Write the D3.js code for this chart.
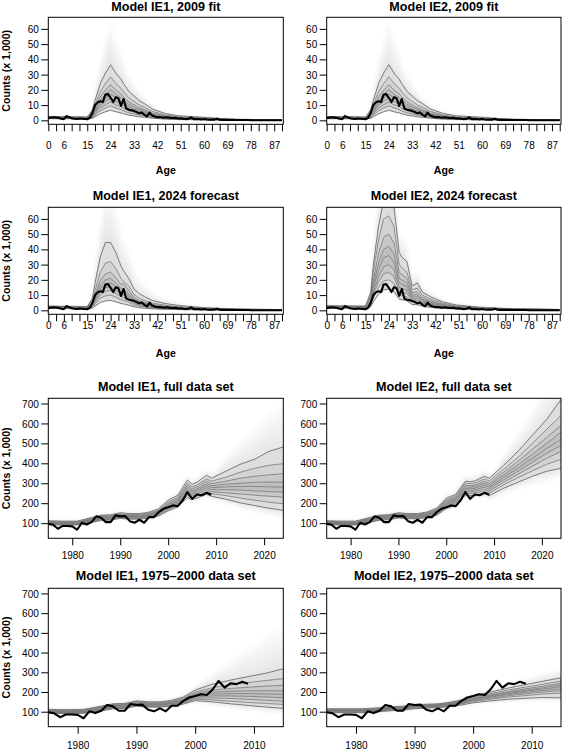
<!DOCTYPE html>
<html><head><meta charset="utf-8">
<script src="https://cdn.jsdelivr.net/npm/d3@7"></script>
<style>
body{margin:0;background:#fff}
svg{display:block}
text{font-family:"Liberation Sans",Arial,Helvetica,sans-serif;fill:#000}
</style>
</head><body><svg id="c" width="562" height="750"></svg>
<script>
// ---------------- DATA ----------------
// Observed 2009 counts by age (x 1,000), ages 0..90
const obsAges = [0,1,2,3,4,5,6,7,8,9,10,11,12,13,14,15,16,17,18,19,20,21,22,23,24,25,26,27,28,29,30,31,32,33,34,35,36,37,38,39,40,41,42,43,44,45,46,47,48,49,50,51,52,53,54,55,56,57,58,59,60,61,62,63,64,65,66,67,68,69,70,71,72,73,74,75,76,77,78,79,80,81,82,83,84,85,86,87,88,89,90];
const obsByAge = [1.5,1.8,2.0,1.9,1.6,1.1,0.8,2.8,2.1,1.4,1.0,0.9,1.1,1.0,0.9,0.7,1.6,5.0,10.0,11.8,12.5,12.0,17.0,17.2,14.8,12.0,15.2,14.5,9.5,14.0,7.8,7.0,6.6,6.2,5.5,4.6,5.2,3.6,2.6,5.0,3.2,2.5,2.0,2.2,1.8,1.9,2.0,1.6,1.5,1.7,1.2,1.3,1.0,0.8,1.0,2.0,0.8,0.9,0.8,0.6,0.9,0.5,0.4,0.5,0.5,1.0,0.4,0.3,0.3,0.3,0.3,0.3,0.2,0.2,0.2,0.2,0.2,0.2,0.1,0.1,0.1,0.1,0.1,0.1,0.1,0.1,0.1,0.1,0.1,0.1,0.1];

// Observed totals by year (x 1,000)
const obsYears = [1975,1976,1977,1978,1979,1980,1981,1982,1983,1984,1985,1986,1987,1988,1989,1990,1991,1992,1993,1994,1995,1996,1997,1998,1999,2000,2001,2002,2003,2004,2005,2006,2007,2008,2009];
const obsByYear = [97,92,72,86,86,84,67,102,93,105,134,127,105,105,139,134,136,110,102,117,102,130,130,155,172,180,189,185,214,256,222,244,240,252,242];

// Age axis
const ageKnots = [0,15,17,18,20,22,24,26,28,29,31,33,35,37,40,45,50,60,70,90];
const ageTicks = [0,3,6,9,12,15,18,21,24,27,30,33,36,39,42,45,48,51,54,57,60,63,66,69,72,75,78,81,84,87,90];
const ageTickLabels = [0,6,15,24,33,42,51,60,69,78,87];
const ageYTicks = [0,10,20,30,40,50,60];

// Model IE1 / IE2, 2009 fit: quantile lines (top to bottom)
const fit2009 = [
 [2.5,2.2,7.0,13,24,31,36.5,31,27,24,19,16,13,11,7.5,4.5,3.0,2.0,0.8,0.3],
 [2.3,2.0,5.5,10.1,18.7,24.2,28.5,24.2,21.1,18.7,14.8,12.5,10.1,8.6,5.9,3.5,2.3,1.6,0.6,0.2],
 [2.1,1.9,4.5,8.3,15.4,19.8,23.4,19.8,17.3,15.4,12.2,10.2,8.3,7.0,4.8,2.9,1.9,1.3,0.5,0.2],
 [2.0,1.8,3.9,7.2,13.2,17.1,20.1,17.1,14.9,13.2,10.5,8.8,7.2,6.1,4.1,2.5,1.7,1.1,0.4,0.2],
 [1.8,1.6,3.3,6.1,11.3,14.6,17.2,14.6,12.7,11.3,8.9,7.5,6.1,5.2,3.5,2.1,1.4,0.9,0.4,0.1],
 [1.7,1.5,2.8,5.2,9.6,12.4,14.6,12.4,10.8,9.6,7.6,6.4,5.2,4.4,3.0,1.8,1.2,0.8,0.3,0.1],
 [1.5,1.4,2.3,4.3,7.9,10.2,12.0,10.2,8.9,7.9,6.3,5.3,4.3,3.6,2.5,1.5,1.0,0.7,0.3,0.1],
 [1.3,1.2,1.8,3.4,6.2,8.1,9.5,8.1,7.0,6.2,4.9,4.2,3.4,2.9,2.0,1.2,0.8,0.5,0.2,0.1],
 [1.1,1.0,1.3,2.3,4.3,5.6,6.6,5.6,4.9,4.3,3.4,2.9,2.3,2.0,1.4,0.8,0.5,0.4,0.1,0.05]
];
const fit2009Halo = [3.2,2.8,12,22,42,56,66,56,46,40,32,26,20,16,11,6,4,2.5,1,0.4];

// Model IE1, 2024 forecast
const ie1Fc2024 = [
 [2.8,2.5,8.0,18,35,44.5,44.5,38,29,26,21,14,11,9,6.5,4.5,3.2,1.8,1.0,0.5],
 [2.5,2.3,6.5,13,25,31,32,27.5,21,19,16,10.5,8,6.5,4.8,3.3,2.4,1.4,0.8,0.4],
 [2.3,2.1,5.2,10.5,19.5,24,25,21.5,17,17.5,13,8.5,6.5,5.3,3.9,2.7,2.0,1.2,0.7,0.3],
 [2.2,2.0,4.5,9.0,16.5,20,21,18,14.5,14,11,7.3,5.6,4.5,3.3,2.3,1.7,1.0,0.6,0.3],
 [2.0,1.9,3.9,7.7,14.2,17.2,18,15.5,12.4,11.8,9.5,6.3,4.8,3.9,2.8,2.0,1.5,0.9,0.5,0.3],
 [1.9,1.8,3.4,6.6,12.2,14.8,15.5,13.3,10.7,10,8.2,5.4,4.1,3.4,2.4,1.7,1.3,0.8,0.4,0.2],
 [1.8,1.6,2.8,5.5,10.2,12.4,13,11.2,9.0,8.4,6.9,4.5,3.5,2.8,2.0,1.4,1.1,0.7,0.4,0.2],
 [1.5,1.4,2.2,4.2,7.9,9.5,10,8.6,6.9,6.5,5.3,3.5,2.7,2.2,1.6,1.1,0.8,0.5,0.3,0.1],
 [1.2,1.1,1.4,2.8,5.1,6.2,6.5,5.6,4.5,4.2,3.4,2.3,1.7,1.4,1.0,0.7,0.5,0.3,0.2,0.1]
];
const ie1Fc2024Halo = [3.6,3.2,16,32,62,78,80,70,55,48,40,28,22,18,12,8,5.5,3,1.5,0.8];

// Model IE2, 2024 forecast
const ie2Fc2024 = [
 [3.0,2.8,12,30,55,72,75,68,38,35,32,16,18,12,9,5.5,3.5,2.0,1.2,0.6],
 [2.8,2.6,10,25,46,60,62,55,30,28,25,13.5,14.5,10,7.5,4.6,3.0,1.7,1.0,0.5],
 [2.6,2.4,8.5,20,37,48,50,44,25,23.5,21,11.5,12,8.5,6.3,3.9,2.6,1.5,0.9,0.5],
 [2.4,2.2,7.0,17,31,40,42,37,21,20,18,10,10.3,7.3,5.4,3.4,2.3,1.3,0.8,0.4],
 [2.2,2.0,6.0,14.5,26.5,34.5,36,31.5,18,17,15.5,8.7,9,6.4,4.7,3.0,2.0,1.2,0.7,0.4],
 [2.0,1.9,5.0,12,22,28.5,30,26.5,15,14.5,13,7.5,7.6,5.5,4.0,2.6,1.7,1.0,0.6,0.3],
 [1.9,1.7,4.2,10,18.5,24,25,22,12.7,12.2,11,6.4,6.4,4.7,3.4,2.2,1.5,0.9,0.5,0.3],
 [1.7,1.5,3.4,8,14.8,19.2,20,17.6,10.3,9.8,8.8,5.2,5.2,3.8,2.8,1.8,1.2,0.8,0.4,0.2],
 [1.4,1.3,2.4,5.6,10.4,13.4,14,12.3,7.3,7.0,6.3,3.8,3.7,2.8,2.0,1.3,0.9,0.6,0.3,0.2]
];
const ie2Fc2024Halo = [4,3.5,20,45,85,100,100,90,55,50,45,25,25,18,13,8,5.5,3,1.8,0.9];

// Time axes
const fullKnots = [1975,1978,1981,1984,1986,1988,1990,1992,1994,1996,1998,2000,2002,2004,2005,2006,2008,2009,2012,2015,2018,2021,2024];
const shortKnots = [1975,1978,1981,1984,1986,1988,1990,1992,1994,1996,1998,2000,2003,2006,2009,2012,2015];
const fullYearTicks = [1980,1990,2000,2010,2020];
const shortYearTicks = [1980,1990,2000,2010];
const countYTicks = [100,200,300,400,500,600,700];

// Model IE1, full data set
const ie1Full = [
 [112,110,110,128,140,142,152,148,148,155,172,215,240,315,295,305,340,325,360,395,420,460,482],
 [108,107,107,124,136,138,147,143,143,150,166,205,230,300,282,292,322,310,330,355,375,390,398],
 [105,104,104,121,133,134,143,139,139,146,161,198,222,290,272,282,310,298,310,325,335,342,348],
 [103,102,102,118,130,131,140,136,136,143,157,192,215,280,263,272,298,288,295,300,305,306,306],
 [100,100,100,115,127,128,137,133,133,140,153,186,208,270,255,263,288,278,282,284,284,282,280],
 [98,98,98,112,124,125,134,130,130,137,149,180,202,260,246,254,278,268,268,266,262,258,256],
 [96,96,96,109,121,122,131,127,127,134,145,174,196,250,237,245,268,258,252,246,240,235,231],
 [94,94,94,106,118,119,128,124,124,130,141,168,190,240,228,236,258,248,238,226,215,205,197],
 [91,91,91,103,114,115,124,120,120,126,136,162,182,228,218,226,245,235,220,202,188,175,164]
];
const ie1FullHalo = [120,118,118,138,150,152,162,158,158,166,185,235,265,345,325,335,370,360,440,520,590,660,720];
const ie1FullHaloLow = [86,86,86,97,108,109,117,113,113,119,128,150,170,210,200,208,225,215,195,170,150,135,120];

// Model IE2, full data set
const ie2Full = [
 [112,110,110,128,140,142,152,148,148,156,175,225,245,310,308,312,335,325,390,460,540,620,720],
 [109,107,107,125,137,139,148,144,144,152,170,217,237,300,298,302,322,312,370,430,500,570,640],
 [106,104,104,122,134,136,145,141,141,148,165,210,230,290,288,292,310,300,355,410,470,530,590],
 [104,102,102,119,131,133,142,138,138,145,161,204,224,282,280,284,300,290,342,392,445,500,555],
 [101,100,100,116,128,130,139,135,135,142,157,198,218,274,272,276,290,280,330,376,425,475,520],
 [99,98,98,113,125,127,136,132,132,139,153,192,212,266,264,268,280,270,318,360,405,450,490],
 [97,96,96,110,122,124,133,129,129,136,149,186,206,258,256,260,270,260,305,345,385,425,460],
 [95,94,94,107,119,121,130,126,126,132,145,180,200,250,248,252,260,250,292,328,362,395,420],
 [92,91,91,104,115,117,126,122,122,128,140,173,192,240,238,242,248,238,275,305,335,360,375]
];
const ie2FullHalo = [122,120,120,140,152,155,165,161,161,170,190,245,270,340,340,345,370,360,450,560,680,800,900];
const ie2FullHaloLow = [85,85,85,97,107,109,116,112,112,118,127,155,172,215,213,217,222,212,240,262,285,305,320];

// Model IE1, 1975-2000 data set
const ie1Short = [
 [112,110,112,128,140,142,155,150,150,158,175,210,240,260,278,295,318],
 [109,107,109,125,137,139,151,146,146,153,169,200,222,236,248,258,268],
 [106,104,106,122,134,136,147,142,142,149,164,193,210,218,224,230,234],
 [104,102,104,119,131,133,144,139,139,146,160,187,200,204,206,207,206],
 [101,100,101,116,128,130,141,136,136,143,156,181,190,192,192,190,188],
 [99,98,99,113,125,127,138,133,133,140,152,175,180,180,178,175,171],
 [97,96,97,110,122,124,135,130,130,136,148,169,170,167,163,158,153],
 [95,94,95,107,119,121,132,127,127,132,144,163,160,153,147,142,137],
 [92,91,92,104,115,117,128,123,123,128,139,156,150,140,132,124,117]
];
const ie1ShortHalo = [122,120,122,140,152,155,168,163,163,172,192,235,300,370,430,490,550];
const ie1ShortHaloLow = [85,85,85,97,107,109,119,114,114,118,128,140,125,110,100,92,85];

// Model IE2, 1975-2000 data set
const ie2Short = [
 [115,115,115,120,125,128,135,138,140,148,160,178,200,220,238,255,272],
 [112,112,112,117,122,125,132,135,137,145,156,172,192,210,225,240,255],
 [110,110,110,115,120,123,130,133,135,142,153,168,186,202,216,230,244],
 [108,108,108,113,118,121,128,131,133,140,150,165,182,197,210,222,235],
 [106,106,106,111,116,119,126,129,131,138,148,162,178,192,204,215,226],
 [104,104,104,109,114,117,124,127,129,136,145,159,174,187,198,208,216],
 [102,102,102,107,112,115,122,125,127,133,142,155,169,181,191,200,206],
 [99,99,99,104,109,112,119,122,124,130,139,151,163,174,182,190,194],
 [95,95,95,100,105,108,115,118,120,126,134,145,155,163,168,172,170]
];
const ie2ShortHalo = [125,125,125,130,135,138,145,148,150,158,172,195,225,250,275,300,330];
const ie2ShortHaloLow = [88,88,88,93,98,101,108,111,113,118,126,135,140,145,148,150,150];

const titles = ["Model IE1, 2009 fit","Model IE2, 2009 fit","Model IE1, 2024 forecast","Model IE2, 2024 forecast",
  "Model IE1, full data set","Model IE2, full data set","Model IE1, 1975\u20132000 data set","Model IE2, 1975\u20132000 data set"];

// ---------------- LAYOUT ----------------
const cols = [{x0:48.3,x1:283.3},{x0:326.7,x1:561}];
const rows = [
 {title:6,   y0:17.3,  y1:124.3, lab:21.4, axTitle:170},
 {title:195, y0:207.3, y1:314.3, lab:11.4, axTitle:353},
 {title:386.7, y0:398.3, y1:538.3, lab:16.7},
 {title:575, y0:588.3, y1:726.7, lab:18.3}
];

const panels = [
 {row:0,col:0,kind:'age',lines:fit2009,halo:fit2009Halo},
 {row:0,col:1,kind:'age',lines:fit2009,halo:fit2009Halo},
 {row:1,col:0,kind:'age',lines:ie1Fc2024,halo:ie1Fc2024Halo},
 {row:1,col:1,kind:'age',lines:ie2Fc2024,halo:ie2Fc2024Halo},
 {row:2,col:0,kind:'full',lines:ie1Full,halo:ie1FullHalo,haloLow:ie1FullHaloLow},
 {row:2,col:1,kind:'full',lines:ie2Full,halo:ie2FullHalo,haloLow:ie2FullHaloLow},
 {row:3,col:0,kind:'short',lines:ie1Short,halo:ie1ShortHalo,haloLow:ie1ShortHaloLow},
 {row:3,col:1,kind:'short',lines:ie2Short,halo:ie2ShortHalo,haloLow:ie2ShortHaloLow}
];

const bandColors = ['#dedede','#d3d3d3','#c8c8c8','#bfbfbf','#bfbfbf','#c8c8c8','#d3d3d3','#dedede'];
const HALO_STEPS = 24;

const svg = d3.select('#c');
const defs = svg.append('defs');
defs.append('filter').attr('id', 'soft').attr('x', '-10%').attr('y', '-10%').attr('width', '120%').attr('height', '120%')
  .append('feGaussianBlur').attr('stdDeviation', 1.5);

panels.forEach((p, idx) => {
  const c = cols[p.col], r = rows[p.row];
  let knots, xDom, yDom, xt, yt, obsX, obs;
  if (p.kind === 'age') { knots = ageKnots; xDom = [0, 90.5]; yDom = [-2.6, 67.6]; xt = ageTicks; yt = ageYTicks; obsX = obsAges; obs = obsByAge; }
  else if (p.kind === 'full') { knots = fullKnots; xDom = [1975, 2024]; yDom = [24, 726]; xt = fullYearTicks; yt = countYTicks; obsX = obsYears; obs = obsByYear; }
  else { knots = shortKnots; xDom = [1975, 2015]; yDom = [24, 726]; xt = shortYearTicks; yt = countYTicks; obsX = obsYears; obs = obsByYear; }

  const x = d3.scaleLinear().domain(xDom).range([c.x0, c.x1]);
  const y = d3.scaleLinear().domain(yDom).range([r.y1, r.y0]);

  const cid = 'clip' + idx;
  defs.append('clipPath').attr('id', cid).append('rect')
    .attr('x', c.x0).attr('y', r.y0).attr('width', c.x1 - c.x0).attr('height', r.y1 - r.y0);
  const g = svg.append('g').attr('clip-path', `url(#${cid})`);

  const top = p.lines[0], bot = p.lines[p.lines.length - 1];
  const low = p.haloLow || bot;

  // faint density halo (stacked translucent layers fading outward)
  const hg = g.append('g').attr('filter', 'url(#soft)');
  for (let k = HALO_STEPS; k >= 1; k--) {
    const f = k / HALO_STEPS;
    const a = d3.area()
      .x((d, j) => x(knots[j]))
      .y0((d, j) => y(bot[j] + (low[j] - bot[j]) * f))
      .y1((d, j) => y(top[j] + (p.halo[j] - top[j]) * f))
      .curve(d3.curveMonotoneX);
    hg.append('path').datum(top).attr('d', a).attr('fill', '#000').attr('fill-opacity', 0.0075);
  }
  // bands between quantile lines
  for (let i = 0; i < p.lines.length - 1; i++) {
    const a = d3.area()
      .x((d, j) => x(knots[j]))
      .y0((d, j) => y(p.lines[i + 1][j]))
      .y1((d, j) => y(p.lines[i][j]));
    g.append('path').datum(p.lines[i]).attr('d', a).attr('fill', bandColors[i]);
  }
  // quantile lines
  const ln = d3.line().x((d, j) => x(knots[j])).y(d => y(d));
  p.lines.forEach((l, i) => g.append('path').datum(l).attr('d', ln)
    .attr('fill', 'none').attr('stroke', (i === 0 || i === p.lines.length - 1) ? '#5e5e5e' : '#777')
    .attr('stroke-width', 0.8));
  // observed
  g.append('path').datum(obs)
    .attr('d', d3.line().x((d, j) => x(obsX[j])).y(d => y(d)))
    .attr('fill', 'none').attr('stroke', '#000').attr('stroke-width', 2.1)
    .attr('stroke-linejoin', 'round');

  // box
  svg.append('rect').attr('x', c.x0).attr('y', r.y0)
    .attr('width', c.x1 - c.x0).attr('height', r.y1 - r.y0)
    .attr('fill', 'none').attr('stroke', '#000').attr('stroke-width', 1);

  // y axis
  const ya = svg.append('g').attr('transform', `translate(${c.x0},0)`)
    .call(d3.axisLeft(y).tickValues(yt).tickSize(7).tickSizeOuter(0));
  ya.select('.domain').remove();
  ya.selectAll('line').attr('stroke', '#000');
  ya.selectAll('text').attr('x', -9.5).attr('dy', '0.36em')
    .style('font-size', '10px').style('font-family', '"Liberation Sans",Arial,sans-serif');

  // x axis
  const xa = svg.append('g').attr('transform', `translate(0,${r.y1})`)
    .call(d3.axisBottom(x).tickValues(xt).tickSize(7).tickSizeOuter(0)
      .tickFormat(d => (p.kind === 'age' ? (ageTickLabels.includes(d) ? d : '') : d)));
  xa.select('.domain').remove();
  xa.selectAll('line').attr('stroke', '#000');
  xa.selectAll('text').attr('y', r.lab).attr('dy', '0.36em')
    .style('font-size', '10px').style('font-family', '"Liberation Sans",Arial,sans-serif');

  // title
  svg.append('text').attr('x', (c.x0 + c.x1) / 2).attr('y', r.title).attr('dy', '0.36em')
    .attr('text-anchor', 'middle').style('font-size', '12.6px').style('font-weight', 'bold')
    .text(titles[idx]);

  if (p.kind === 'age') {
    svg.append('text').attr('x', (c.x0 + c.x1) / 2).attr('y', r.axTitle).attr('dy', '0.36em')
      .attr('text-anchor', 'middle').style('font-size', '10.6px').style('font-weight', 'bold')
      .text('Age');
  }
  if (p.col === 0) {
    svg.append('text').attr('transform', `translate(9.5,${(r.y0 + r.y1) / 2}) rotate(-90)`)
      .attr('text-anchor', 'middle').style('font-size', '10.6px').style('font-weight', 'bold')
      .text('Counts (x 1,000)');
  }
});
</script>
</body></html>
